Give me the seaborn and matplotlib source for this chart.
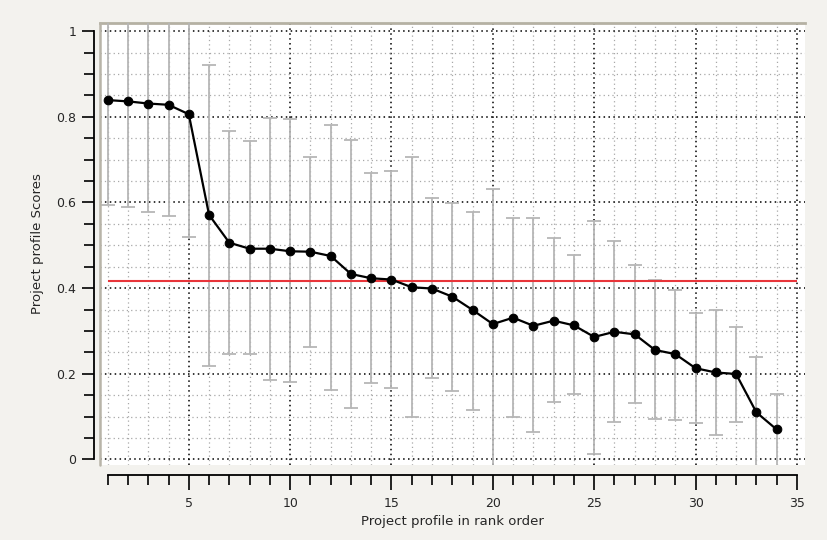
import matplotlib
matplotlib.use("Agg")
import matplotlib.pyplot as plt
from matplotlib.ticker import MultipleLocator
import numpy as np
import pandas as pd
import seaborn as sns

rank = list(range(1, 35))
score = [0.839, 0.836, 0.831, 0.828, 0.806, 0.571, 0.506, 0.492, 0.492, 0.486,
         0.485, 0.475, 0.433, 0.423, 0.420, 0.402, 0.399, 0.380, 0.349, 0.316,
         0.331, 0.312, 0.324, 0.313, 0.286, 0.298, 0.292, 0.2555, 0.246, 0.213,
         0.203, 0.1995, 0.110, 0.070]
upper = [1.05, 1.05, 1.05, 1.05, 1.05, 0.922, 0.767, 0.743, 0.797, 0.794,
         0.707, 0.782, 0.746, 0.669, 0.674, 0.707, 0.611, 0.599, 0.578, 0.631,
         0.564, 0.564, 0.518, 0.477, 0.557, 0.510, 0.453, 0.419, 0.396, 0.343,
         0.349, 0.310, 0.2385, 0.1536]
lower = [0.593, 0.589, 0.578, 0.568, 0.520, 0.217, 0.2455, 0.2455, 0.1855, 0.181,
         0.263, 0.162, 0.119, 0.178, 0.167, 0.098, 0.191, 0.159, 0.116, -0.02,
         0.098, 0.063, 0.134, 0.152, 0.013, 0.0875, 0.131, 0.095, 0.0915, 0.085,
         0.056, 0.088, -0.02, -0.02]
threshold = 0.417

df = pd.DataFrame({"rank": rank, "score": score, "upper": upper, "lower": lower})

sns.set_style("white")
plt.rcParams['font.family'] = ['DejaVu Sans']

fig = plt.figure(figsize=(8.28, 5.4), dpi=100, facecolor='#f3f2ee')
ax = fig.add_axes([100/828, 1-465/540, 705/828, 442/540])
ax.set_facecolor('white')

# error bars
yerr = np.array([df["score"] - df["lower"], df["upper"] - df["score"]])
ax.errorbar(df["rank"], df["score"], yerr=yerr, fmt='none', ecolor='#b6b6b6',
            elinewidth=1.3, capsize=5, capthick=1.3, zorder=3)

# threshold line
ax.hlines(threshold, 1, 35, color='#e8353a', lw=1.5, zorder=4)

# mean line
sns.lineplot(data=df, x="rank", y="score", ax=ax, color='black', lw=1.6,
             marker='o', markersize=6.2, markeredgecolor='black', zorder=5)

ax.set_xlim(0.62, 35.4)
ax.set_ylim(-0.013, 1.019)

ax.xaxis.set_major_locator(MultipleLocator(5))
ax.xaxis.set_minor_locator(MultipleLocator(1))
ax.yaxis.set_major_locator(MultipleLocator(0.2))
ax.yaxis.set_minor_locator(MultipleLocator(0.05))
ax.set_yticks([0, 0.2, 0.4, 0.6, 0.8, 1.0])
ax.set_yticklabels(['0', '0.2', '0.4', '0.6', '0.8', '1'])

ax.grid(which='major', color='black', linestyle=(0, (1, 2.2)), lw=1.1, zorder=1)
ax.grid(which='minor', color='#a8a8a8', linestyle=(0, (1, 2.5)), lw=0.9, zorder=1)
ax.set_axisbelow(True)

ax.spines['right'].set_visible(False)
ax.spines['top'].set_color('#b5b1a3')
ax.spines['top'].set_linewidth(2.0)
ax.spines['left'].set_position(('outward', 4))
ax.spines['left'].set_bounds(0, 1)
ax.spines['left'].set_color('black')
ax.spines['left'].set_linewidth(1.3)
ax.spines['bottom'].set_position(('outward', 7))
ax.spines['bottom'].set_bounds(1, 35)
ax.spines['bottom'].set_color('black')
ax.spines['bottom'].set_linewidth(1.3)

# grey left border of the plot box
ax.plot([0, 0], [0, 1], transform=ax.transAxes, color='#b8b4a8', lw=1.8,
        clip_on=False, zorder=6)

ax.tick_params(axis='y', which='major', direction='out', length=9, width=1.2,
               color='black', labelsize=9, pad=4, left=True)
ax.tick_params(axis='y', which='minor', direction='out', length=7, width=1.2,
               color='black', left=True)
ax.tick_params(axis='x', which='major', direction='out', length=11, width=1.2,
               color='black', labelsize=9, pad=5, bottom=True)
ax.tick_params(axis='x', which='minor', direction='out', length=7, width=1.2,
               color='black', bottom=True)

ax.set_xlabel('Project profile in rank order', fontsize=9.5, labelpad=4)
ax.set_ylabel('Project profile Scores', fontsize=9.5, labelpad=9)

fig.savefig('out.png', dpi=100, facecolor=fig.get_facecolor())
